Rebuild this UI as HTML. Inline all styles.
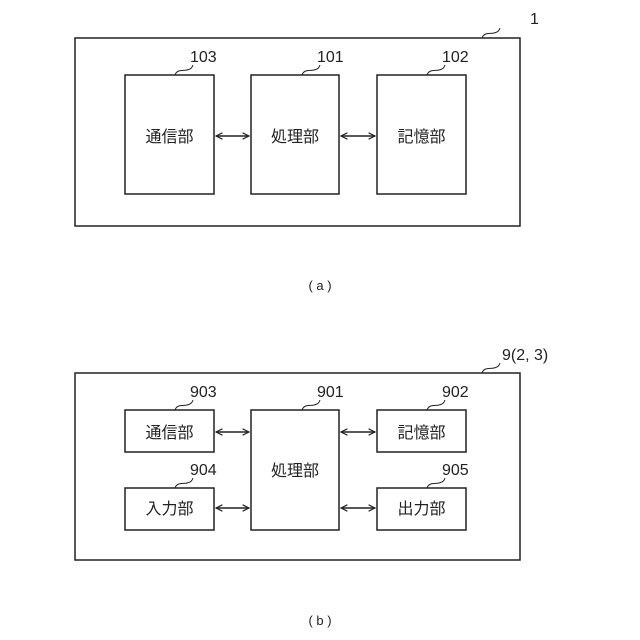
<!DOCTYPE html>
<html><head><meta charset="utf-8"><style>
html,body{margin:0;padding:0;background:#fff;}
svg{display:block;}
text{font-family:"Liberation Sans","Noto Sans CJK JP",sans-serif;fill:#222;}
.j{font-size:16px;text-anchor:middle;}
.n{font-size:16px;}
</style></head><body>
<svg width="640" height="640" viewBox="0 0 640 640" xmlns="http://www.w3.org/2000/svg">
<defs>
<marker id="a" viewBox="0 0 10 10" refX="9" refY="5" markerWidth="8" markerHeight="8" orient="auto-start-reverse" markerUnits="userSpaceOnUse">
<path d="M1,1 L9,5 L1,9" fill="none" stroke="#222" stroke-width="1.5"/>
</marker>
</defs>
<g fill="none" stroke="#222" stroke-width="1.5">
<rect x="75" y="38" width="445" height="188"/>
<rect x="125" y="75" width="89" height="119"/>
<rect x="251" y="75" width="88" height="119"/>
<rect x="377" y="75" width="89" height="119"/>
<line x1="216" y1="136" x2="249" y2="136" marker-start="url(#a)" marker-end="url(#a)"/>
<line x1="341" y1="136" x2="375" y2="136" marker-start="url(#a)" marker-end="url(#a)"/>
<path d="M175,75 c2,-6 8,-4 12,-5 c4,-1 5,-2 6,-5" stroke-width="1"/>
<path d="M302,75 c2,-6 8,-4 12,-5 c4,-1 5,-2 6,-5" stroke-width="1"/>
<path d="M427,75 c2,-6 8,-4 12,-5 c4,-1 5,-2 6,-5" stroke-width="1"/>
<path d="M482,38 c2,-6 8,-4 12,-5 c4,-1 5,-2 6,-5" stroke-width="1"/>

<rect x="75" y="373" width="445" height="187"/>
<rect x="125" y="410" width="89" height="42"/>
<rect x="125" y="488" width="89" height="42"/>
<rect x="251" y="410" width="88" height="120"/>
<rect x="377" y="410" width="89" height="42"/>
<rect x="377" y="488" width="89" height="42"/>
<line x1="216" y1="432" x2="249" y2="432" marker-start="url(#a)" marker-end="url(#a)"/>
<line x1="216" y1="508" x2="249" y2="508" marker-start="url(#a)" marker-end="url(#a)"/>
<line x1="341" y1="432" x2="375" y2="432" marker-start="url(#a)" marker-end="url(#a)"/>
<line x1="341" y1="508" x2="375" y2="508" marker-start="url(#a)" marker-end="url(#a)"/>
<path d="M175,410 c2,-6 8,-4 12,-5 c4,-1 5,-2 6,-5" stroke-width="1"/>
<path d="M175,488 c2,-6 8,-4 12,-5 c4,-1 5,-2 6,-5" stroke-width="1"/>
<path d="M302,410 c2,-6 8,-4 12,-5 c4,-1 5,-2 6,-5" stroke-width="1"/>
<path d="M427,410 c2,-6 8,-4 12,-5 c4,-1 5,-2 6,-5" stroke-width="1"/>
<path d="M427,488 c2,-6 8,-4 12,-5 c4,-1 5,-2 6,-5" stroke-width="1"/>
<path d="M482,373 c2,-6 8,-4 12,-5 c4,-1 5,-2 6,-5" stroke-width="1"/>
</g>
<text class="n" x="190" y="62">103</text>
<text class="n" x="317" y="62">101</text>
<text class="n" x="442" y="62">102</text>
<text class="n" x="530" y="24">1</text>
<text class="j" x="169.5" y="142">通信部</text>
<text class="j" x="295" y="142">処理部</text>
<text class="j" x="421.5" y="142">記憶部</text>
<text x="320" y="290" style="font-size:13px;text-anchor:middle">( a )</text>

<text class="n" x="190" y="397">903</text>
<text class="n" x="317" y="397">901</text>
<text class="n" x="442" y="397">902</text>
<text class="n" x="190" y="475">904</text>
<text class="n" x="442" y="475">905</text>
<text class="n" x="502" y="360">9(2, 3)</text>
<text class="j" x="169.5" y="438">通信部</text>
<text class="j" x="169.5" y="514">入力部</text>
<text class="j" x="295" y="476">処理部</text>
<text class="j" x="421.5" y="438">記憶部</text>
<text class="j" x="421.5" y="514">出力部</text>
<text x="320" y="625" style="font-size:13px;text-anchor:middle">( b )</text>
</svg>
</body></html>
